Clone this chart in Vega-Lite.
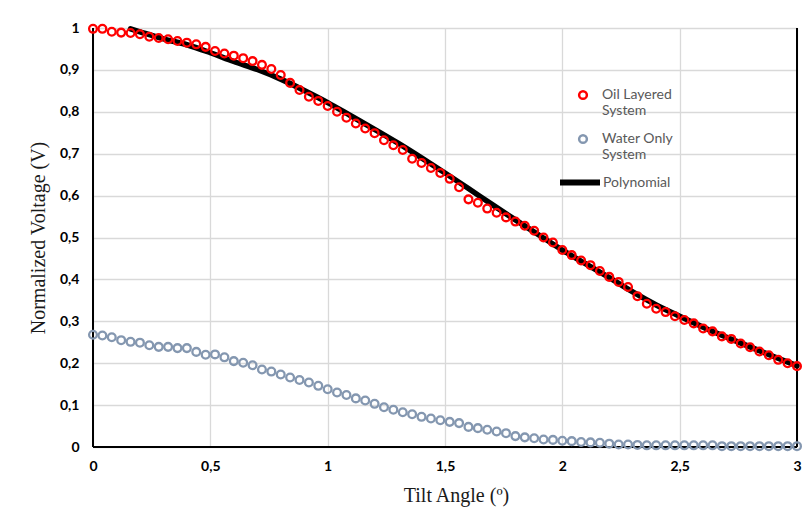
{
  "$schema": "https://vega.github.io/schema/vega-lite/v6.json",
  "width": 704,
  "height": 419,
  "autosize": {"type": "none"},
  "padding": {"left": 93, "top": 28, "right": 15, "bottom": 61},
  "background": "white",
  "config": {
    "view": {"stroke": null},
    "axis": {
      "ticks": false,
      "domain": false,
      "grid": true,
      "gridColor": "#d9d9d9",
      "gridWidth": 1.3,
      "labelFlush": false,
      "labelFont": "Lato",
      "labelFontWeight": "bold",
      "labelFontSize": 14,
      "labelColor": "#000000",
      "titleFont": "Liberation Serif",
      "titleFontWeight": "normal",
      "titleFontSize": 20,
      "titleColor": "#1a1a1a"
    },
    "legend": {"padding": 0}
  },
  "datasets": {
    "frame": [{"edge": "left", "angle": 0}, {"edge": "right", "angle": 3}],
    "base": [{"edge": "bottom", "voltage": 0}],
    "oil": [
      {"angle": 0, "voltage": 0.998}, {"angle": 0.04, "voltage": 0.998}, {"angle": 0.08, "voltage": 0.991}, {"angle": 0.12, "voltage": 0.989},
      {"angle": 0.16, "voltage": 0.988}, {"angle": 0.2, "voltage": 0.985}, {"angle": 0.24, "voltage": 0.979}, {"angle": 0.28, "voltage": 0.976},
      {"angle": 0.32, "voltage": 0.973}, {"angle": 0.36, "voltage": 0.969}, {"angle": 0.4, "voltage": 0.965}, {"angle": 0.44, "voltage": 0.961},
      {"angle": 0.48, "voltage": 0.955}, {"angle": 0.52, "voltage": 0.945}, {"angle": 0.56, "voltage": 0.939}, {"angle": 0.6, "voltage": 0.934},
      {"angle": 0.64, "voltage": 0.928}, {"angle": 0.68, "voltage": 0.921}, {"angle": 0.72, "voltage": 0.912}, {"angle": 0.76, "voltage": 0.902},
      {"angle": 0.8, "voltage": 0.888}, {"angle": 0.84, "voltage": 0.869}, {"angle": 0.88, "voltage": 0.852}, {"angle": 0.92, "voltage": 0.836},
      {"angle": 0.96, "voltage": 0.826}, {"angle": 1.0, "voltage": 0.814}, {"angle": 1.04, "voltage": 0.8}, {"angle": 1.08, "voltage": 0.786},
      {"angle": 1.12, "voltage": 0.772}, {"angle": 1.16, "voltage": 0.76}, {"angle": 1.2, "voltage": 0.749}, {"angle": 1.24, "voltage": 0.732},
      {"angle": 1.28, "voltage": 0.72}, {"angle": 1.32, "voltage": 0.709}, {"angle": 1.36, "voltage": 0.688}, {"angle": 1.4, "voltage": 0.678},
      {"angle": 1.44, "voltage": 0.666}, {"angle": 1.48, "voltage": 0.654}, {"angle": 1.52, "voltage": 0.64}, {"angle": 1.56, "voltage": 0.62},
      {"angle": 1.6, "voltage": 0.591}, {"angle": 1.64, "voltage": 0.583}, {"angle": 1.68, "voltage": 0.569}, {"angle": 1.72, "voltage": 0.559},
      {"angle": 1.76, "voltage": 0.548}, {"angle": 1.8, "voltage": 0.538}, {"angle": 1.84, "voltage": 0.528}, {"angle": 1.88, "voltage": 0.516},
      {"angle": 1.92, "voltage": 0.5}, {"angle": 1.96, "voltage": 0.488}, {"angle": 2.0, "voltage": 0.47}, {"angle": 2.04, "voltage": 0.458},
      {"angle": 2.08, "voltage": 0.445}, {"angle": 2.12, "voltage": 0.434}, {"angle": 2.16, "voltage": 0.42}, {"angle": 2.2, "voltage": 0.406},
      {"angle": 2.24, "voltage": 0.394}, {"angle": 2.28, "voltage": 0.382}, {"angle": 2.32, "voltage": 0.36}, {"angle": 2.36, "voltage": 0.342},
      {"angle": 2.4, "voltage": 0.33}, {"angle": 2.44, "voltage": 0.322}, {"angle": 2.48, "voltage": 0.312}, {"angle": 2.52, "voltage": 0.303},
      {"angle": 2.56, "voltage": 0.295}, {"angle": 2.6, "voltage": 0.283}, {"angle": 2.64, "voltage": 0.276}, {"angle": 2.68, "voltage": 0.264},
      {"angle": 2.72, "voltage": 0.258}, {"angle": 2.76, "voltage": 0.247}, {"angle": 2.8, "voltage": 0.238}, {"angle": 2.84, "voltage": 0.228},
      {"angle": 2.88, "voltage": 0.219}, {"angle": 2.92, "voltage": 0.208}, {"angle": 2.96, "voltage": 0.2}, {"angle": 3.0, "voltage": 0.193}
    ],
    "water": [
      {"angle": 0, "voltage": 0.268}, {"angle": 0.04, "voltage": 0.266}, {"angle": 0.08, "voltage": 0.262}, {"angle": 0.12, "voltage": 0.255},
      {"angle": 0.16, "voltage": 0.251}, {"angle": 0.2, "voltage": 0.249}, {"angle": 0.24, "voltage": 0.243}, {"angle": 0.28, "voltage": 0.239},
      {"angle": 0.32, "voltage": 0.239}, {"angle": 0.36, "voltage": 0.236}, {"angle": 0.4, "voltage": 0.236}, {"angle": 0.44, "voltage": 0.227},
      {"angle": 0.48, "voltage": 0.22}, {"angle": 0.52, "voltage": 0.221}, {"angle": 0.56, "voltage": 0.214}, {"angle": 0.6, "voltage": 0.205},
      {"angle": 0.64, "voltage": 0.201}, {"angle": 0.68, "voltage": 0.195}, {"angle": 0.72, "voltage": 0.185}, {"angle": 0.76, "voltage": 0.18},
      {"angle": 0.8, "voltage": 0.173}, {"angle": 0.84, "voltage": 0.166}, {"angle": 0.88, "voltage": 0.16}, {"angle": 0.92, "voltage": 0.154},
      {"angle": 0.96, "voltage": 0.146}, {"angle": 1.0, "voltage": 0.138}, {"angle": 1.04, "voltage": 0.13}, {"angle": 1.08, "voltage": 0.124},
      {"angle": 1.12, "voltage": 0.116}, {"angle": 1.16, "voltage": 0.111}, {"angle": 1.2, "voltage": 0.103}, {"angle": 1.24, "voltage": 0.095},
      {"angle": 1.28, "voltage": 0.089}, {"angle": 1.32, "voltage": 0.083}, {"angle": 1.36, "voltage": 0.078}, {"angle": 1.4, "voltage": 0.072},
      {"angle": 1.44, "voltage": 0.068}, {"angle": 1.48, "voltage": 0.064}, {"angle": 1.52, "voltage": 0.06}, {"angle": 1.56, "voltage": 0.057},
      {"angle": 1.6, "voltage": 0.048}, {"angle": 1.64, "voltage": 0.045}, {"angle": 1.68, "voltage": 0.041}, {"angle": 1.72, "voltage": 0.037},
      {"angle": 1.76, "voltage": 0.033}, {"angle": 1.8, "voltage": 0.026}, {"angle": 1.84, "voltage": 0.023}, {"angle": 1.88, "voltage": 0.021},
      {"angle": 1.92, "voltage": 0.018}, {"angle": 1.96, "voltage": 0.017}, {"angle": 2.0, "voltage": 0.015}, {"angle": 2.04, "voltage": 0.014},
      {"angle": 2.08, "voltage": 0.012}, {"angle": 2.12, "voltage": 0.011}, {"angle": 2.16, "voltage": 0.01}, {"angle": 2.2, "voltage": 0.008},
      {"angle": 2.24, "voltage": 0.006}, {"angle": 2.28, "voltage": 0.006}, {"angle": 2.32, "voltage": 0.005}, {"angle": 2.36, "voltage": 0.004},
      {"angle": 2.4, "voltage": 0.004}, {"angle": 2.44, "voltage": 0.004}, {"angle": 2.48, "voltage": 0.004}, {"angle": 2.52, "voltage": 0.004},
      {"angle": 2.56, "voltage": 0.004}, {"angle": 2.6, "voltage": 0.004}, {"angle": 2.64, "voltage": 0.004}, {"angle": 2.68, "voltage": 0.002},
      {"angle": 2.72, "voltage": 0.002}, {"angle": 2.76, "voltage": 0.002}, {"angle": 2.8, "voltage": 0.002}, {"angle": 2.84, "voltage": 0.002},
      {"angle": 2.88, "voltage": 0.002}, {"angle": 2.92, "voltage": 0.002}, {"angle": 2.96, "voltage": 0.002}, {"angle": 3.0, "voltage": 0.002}
    ],
    "poly": [
      {"angle": 0.16, "voltage": 0.998}, {"angle": 0.2, "voltage": 0.991}, {"angle": 0.3, "voltage": 0.974}, {"angle": 0.4, "voltage": 0.96},
      {"angle": 0.5, "voltage": 0.941}, {"angle": 0.6, "voltage": 0.92}, {"angle": 0.7, "voltage": 0.901}, {"angle": 0.8, "voltage": 0.878},
      {"angle": 0.9, "voltage": 0.851}, {"angle": 1.0, "voltage": 0.822}, {"angle": 1.1, "voltage": 0.79}, {"angle": 1.2, "voltage": 0.758},
      {"angle": 1.3, "voltage": 0.725}, {"angle": 1.4, "voltage": 0.69}, {"angle": 1.5, "voltage": 0.654}, {"angle": 1.6, "voltage": 0.617},
      {"angle": 1.7, "voltage": 0.579}, {"angle": 1.8, "voltage": 0.542}, {"angle": 1.9, "voltage": 0.506}, {"angle": 2.0, "voltage": 0.47},
      {"angle": 2.1, "voltage": 0.437}, {"angle": 2.2, "voltage": 0.404}, {"angle": 2.3, "voltage": 0.37}, {"angle": 2.4, "voltage": 0.339},
      {"angle": 2.5, "voltage": 0.312}, {"angle": 2.6, "voltage": 0.286}, {"angle": 2.7, "voltage": 0.262}, {"angle": 2.8, "voltage": 0.239},
      {"angle": 2.9, "voltage": 0.216}, {"angle": 3.0, "voltage": 0.194}
    ]
  },
  "layer": [
    {
      "data": {"name": "frame"},
      "mark": {"type": "rule", "color": "#000000", "strokeWidth": 2},
      "encoding": {"x": {"field": "angle", "type": "quantitative"}}
    },
    {
      "data": {"name": "base"},
      "mark": {"type": "rule", "color": "#000000", "strokeWidth": 2},
      "encoding": {"y": {"field": "voltage", "type": "quantitative"}}
    },
    {
      "data": {"name": "poly"},
      "mark": {"type": "line", "strokeWidth": 5.5, "interpolate": "monotone", "strokeCap": "round"},
      "encoding": {
        "x": {
          "field": "angle", "type": "quantitative",
          "scale": {"domain": [0, 3], "nice": false, "zero": false},
          "axis": {
            "title": "Tilt Angle (º)",
            "values": [0, 0.5, 1, 1.5, 2, 2.5, 3],
            "labelExpr": "replace(format(datum.value, '~g'), '.', ',')",
            "labelPadding": 12,
            "titlePadding": 12,
            "titleX": 363
          }
        },
        "y": {
          "field": "voltage", "type": "quantitative",
          "scale": {"domain": [0, 1], "nice": false},
          "axis": {
            "title": "Normalized Voltage (V)",
            "values": [0, 0.1, 0.2, 0.3, 0.4, 0.5, 0.6, 0.7, 0.8, 0.9, 1],
            "labelExpr": "replace(format(datum.value, '~g'), '.', ',')",
            "labelPadding": 14,
            "titlePadding": 11
          }
        },
        "stroke": {
          "datum": "Polynomial",
          "scale": {"domain": ["Polynomial"], "range": ["#000000"]},
          "legend": {
            "orient": "none", "legendX": 464, "legendY": 131.5, "title": null,
            "symbolType": "stroke", "symbolSize": 1600, "symbolStrokeWidth": 6,
            "labelOffset": 0, "labelFont": "Lato", "labelFontSize": 14, "labelColor": "#595959"
          }
        }
      }
    },
    {
      "layer": [
        {
          "data": {"name": "oil"},
          "mark": {"type": "point", "shape": "circle", "filled": false, "size": 60, "strokeWidth": 2.3, "opacity": 1},
          "encoding": {
            "x": {"field": "angle", "type": "quantitative"},
            "y": {"field": "voltage", "type": "quantitative"},
            "stroke": {
              "datum": "Oil Layered System",
              "scale": {"domain": ["Oil Layered System", "Water Only System"], "range": ["#ff0000", "#8497b0"]},
              "legend": {
                "orient": "none", "legendX": 483, "legendY": 60, "title": null,
                "symbolType": "circle", "symbolSize": 60, "symbolStrokeWidth": 2.5,
                "labelOffset": 12, "labelFont": "Lato", "labelFontSize": 14, "labelColor": "#595959",
                "labelBaseline": "middle", "labelLineHeight": 19, "rowPadding": 12,
                "labelExpr": "datum.label == 'Oil Layered System' ? ['Oil Layered', 'System'] : ['Water Only', 'System']"
              }
            }
          }
        },
        {
          "data": {"name": "water"},
          "mark": {"type": "point", "shape": "circle", "filled": false, "size": 60, "strokeWidth": 2.3, "opacity": 1},
          "encoding": {
            "x": {"field": "angle", "type": "quantitative"},
            "y": {"field": "voltage", "type": "quantitative"},
            "stroke": {"datum": "Water Only System"}
          }
        }
      ]
    }
  ],
  "resolve": {"scale": {"stroke": "independent"}}
}
